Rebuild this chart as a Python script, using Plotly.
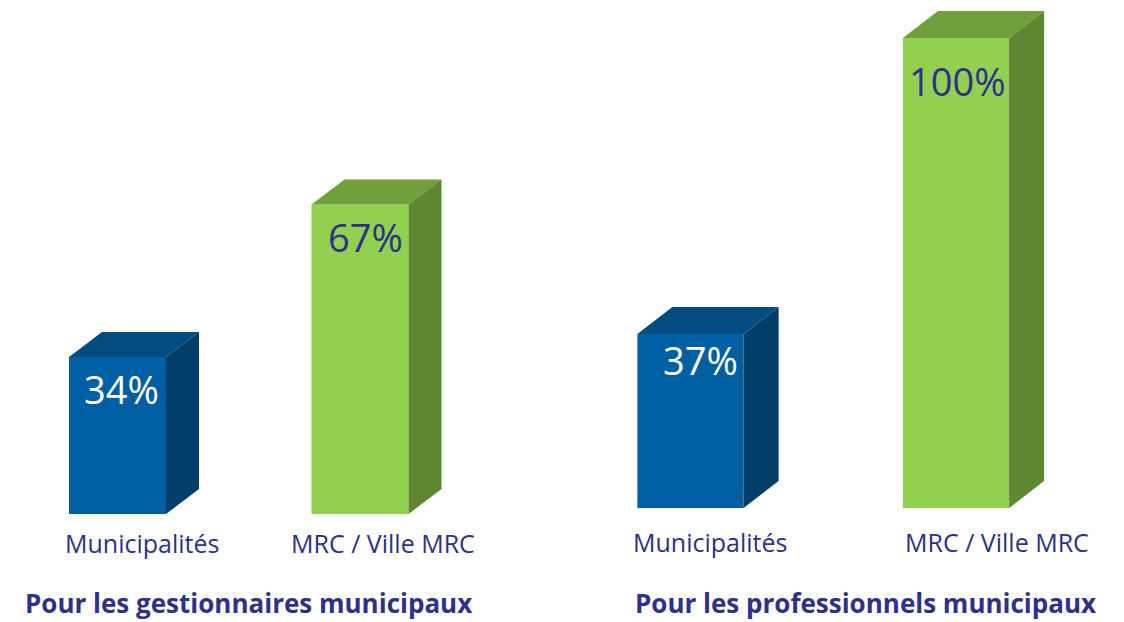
import plotly.graph_objects as go

# ---- data ----
categories = ["Municipalités", "MRC / Ville MRC"]
gestionnaires = [34, 67]
professionnels = [37, 100]
panel_titles = ["Pour les gestionnaires municipaux", "Pour les professionnels municipaux"]
value_labels_g = ["34%", "67%"]
value_labels_p = ["37%", "100%"]

# ---- style ----
W, H = 1124, 622
FRONT = ["#005EA2", "#92D050"]
TOP = ["#034C80", "#70A03C"]
SIDE = ["#033E69", "#5F8732"]
VALUE_COLOR = ["white", "#2E3089"]
NAVY = "#2E3089"
FONT = "Open Sans"
BAR_W = 0.4

# panel geometry (pixel based layout -> axis ranges)
panels = [
    dict(vals=gestionnaires, labels=value_labels_g, x0px=117.5, step=242.5, base=514, ppu=4.62,
         dom=(0, 0.5), depth=(33, 25), lab_dx=[0.10, 1.095], lab_y=543, title_x=248,
         vshift=[(4, -32), (5, -33)]),
    dict(vals=professionnels, labels=value_labels_p, x0px=690.5, step=265.5, base=508, ppu=4.70,
         dom=(0.5, 1.0), depth=(35, 27), lab_dx=[0.073, 1.154], lab_y=542, title_x=865,
         vshift=[(10, -26), (1, -43)]),
]

fig = go.Figure()
annotations = []
for k, p in enumerate(panels):
    xa = "x" if k == 0 else "x2"
    ya = "y" if k == 0 else "y2"
    left_px = p["dom"][0] * W
    right_px = p["dom"][1] * W
    xr = [(left_px - p["x0px"]) / p["step"], (right_px - p["x0px"]) / p["step"]]
    yr = [(p["base"] - H) / p["ppu"], p["base"] / p["ppu"]]
    dx = p["depth"][0] / p["step"]
    dy = p["depth"][1] / p["ppu"]
    axname = "" if k == 0 else "2"
    fig.update_layout(**{
        f"xaxis{axname}": dict(domain=list(p["dom"]), range=xr, visible=False, fixedrange=True),
        f"yaxis{axname}": dict(domain=[0, 1], range=yr, visible=False, fixedrange=True,
                               anchor=xa),
    })
    for i, v in enumerate(p["vals"]):
        xl, xrt = i - BAR_W / 2, i + BAR_W / 2
        # front face
        fig.add_trace(go.Bar(x=[i], y=[v], width=BAR_W, marker=dict(color=FRONT[i], line=dict(width=0)),
                             xaxis=xa, yaxis=ya, showlegend=False, hoverinfo="skip"))
        # top face
        fig.add_trace(go.Scatter(x=[xl, xl + dx, xrt + dx, xrt, xl], y=[v, v + dy, v + dy, v, v],
                                 fill="toself", fillcolor=TOP[i], mode="lines", line=dict(width=0),
                                 xaxis=xa, yaxis=ya, showlegend=False, hoverinfo="skip"))
        # side face
        fig.add_trace(go.Scatter(x=[xrt, xrt + dx, xrt + dx, xrt, xrt], y=[v, v + dy, dy, 0, v],
                                 fill="toself", fillcolor=SIDE[i], mode="lines", line=dict(width=0),
                                 xaxis=xa, yaxis=ya, showlegend=False, hoverinfo="skip"))
        # value label
        sx, sy = p["vshift"][i]
        annotations.append(dict(x=i, y=v, xref=xa, yref=ya, text=p["labels"][i], showarrow=False,
                                xanchor="center", yanchor="middle", xshift=sx, yshift=sy,
                                font=dict(family=FONT, size=38, color=VALUE_COLOR[i])))
        # category label
        annotations.append(dict(x=p["lab_dx"][i], y=(p["base"] - p["lab_y"]) / p["ppu"], xref=xa, yref=ya,
                                text=categories[i], showarrow=False, xanchor="center", yanchor="middle",
                                font=dict(family=FONT, size=25, color=NAVY)))
    annotations.append(dict(x=p["title_x"] / W, y=1 - 603 / H, xref="paper", yref="paper",
                            text=f"<b>{panel_titles[k]}</b>", showarrow=False,
                            xanchor="center", yanchor="middle", borderpad=0,
                            font=dict(family=FONT, size=26, color=NAVY)))

fig.update_layout(width=W, height=H, margin=dict(l=0, r=0, t=0, b=0),
                  paper_bgcolor="white", plot_bgcolor="white", barmode="overlay",
                  annotations=annotations)
fig.write_html("out.html")
